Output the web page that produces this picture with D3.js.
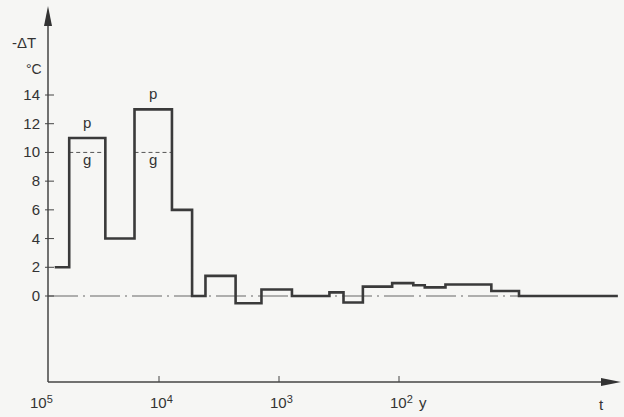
<!DOCTYPE html>
<html>
<head>
<meta charset="utf-8">
<script src="https://cdn.jsdelivr.net/npm/d3@7"></script>
<style>
body{margin:0;background:#f6f6f4;}
svg{display:block;font-family:"Liberation Sans",Arial,sans-serif;}
</style>
</head>
<body>
<svg id="chart" width="624" height="417"></svg>
<script>
// step boundaries in years before present
let edges=[74000,56000,28000,16000,7800,5300,4100,2300,1400,780,380,290,200,114,76,61,41,17,10,1.5]
// -dT in deg C for each step
let dT=[2,11,4,13,6,0,1.4,-0.5,0.45,0,0.25,-0.45,0.65,0.9,0.75,0.6,0.8,0.35,0]
// dashed "g" levels over the two cold peaks
let gSpans=[[56000,28000],[16000,7800]]
let gLevel=10
let yTicks=[0,2,4,6,8,10,12,14]
let xTicks=[100000,10000,1000,100]
let xExp=["5","4","3","2"]

let svg=d3.select("#chart")
let ink="#3a3a3a"
let x=d3.scaleLog().domain([1e5,1]).range([39,639])
let y=d3.scaleLinear().domain([0,14]).range([296,95])
let axX=48, axY=382

// zero reference line, dash-dot
svg.append("line")
	.attr("x1",axX).attr("x2",x(10)).attr("y1",y(0)).attr("y2",y(0))
	.attr("stroke","#666").attr("stroke-width",1.2)
	.attr("stroke-dasharray","30,5,2,5")

// g dashed lines
svg.selectAll(".g").data(gSpans).enter().append("line")
	.attr("x1",d=>x(d[0])).attr("x2",d=>x(d[1]))
	.attr("y1",y(gLevel)).attr("y2",y(gLevel))
	.attr("stroke","#555").attr("stroke-width",1)
	.attr("stroke-dasharray","4,3")

// step curve
let pts=dT.map((v,i)=>[edges[i],v])
pts.push([edges[edges.length-1],dT[dT.length-1]])
let line=d3.line().x(d=>x(d[0])).y(d=>y(d[1])).curve(d3.curveStepAfter)
svg.append("path")
	.attr("d",line(pts))
	.attr("fill","none").attr("stroke",ink).attr("stroke-width",2.6)
	.attr("stroke-linejoin","miter")

// axes
svg.append("line").attr("x1",axX).attr("x2",axX).attr("y1",axY).attr("y2",22)
	.attr("stroke","#444").attr("stroke-width",1.5)
svg.append("line").attr("x1",axX).attr("x2",606).attr("y1",axY).attr("y2",axY)
	.attr("stroke","#444").attr("stroke-width",1.5)
svg.append("path").attr("d",`M${axX},6 L${axX-4},26 L${axX+4},26 Z`).attr("fill","#333")
svg.append("path").attr("d",`M621,${axY} L601,${axY-4} L601,${axY+4} Z`).attr("fill","#333")

// y ticks and labels
svg.selectAll(".yt").data(yTicks).enter().append("line")
	.attr("x1",axX-3).attr("x2",axX+6).attr("y1",d=>y(d)).attr("y2",d=>y(d))
	.attr("stroke","#444").attr("stroke-width",1)
svg.selectAll(".yl").data(yTicks).enter().append("text")
	.attr("x",40).attr("y",d=>y(d)+5).attr("text-anchor","end")
	.attr("font-size",15).attr("fill","#333").text(d=>d)
svg.append("text").attr("x",12).attr("y",48).attr("font-size",15).attr("fill","#333").text("-ΔT")
svg.append("text").attr("x",26).attr("y",74).attr("font-size",14).attr("fill","#333").text("°C")

// x ticks and labels
svg.selectAll(".xt").data(xTicks.slice(1)).enter().append("line")
	.attr("x1",d=>x(d)).attr("x2",d=>x(d)).attr("y1",axY-6).attr("y2",axY)
	.attr("stroke","#444").attr("stroke-width",1)
let xl=svg.selectAll(".xl").data(xTicks).enter().append("text")
	.attr("x",d=>x(d)-9).attr("y",408).attr("font-size",15).attr("fill","#333")
xl.append("tspan").text("10")
xl.append("tspan").attr("dy",-5).attr("font-size",11).text((d,i)=>xExp[i])
svg.append("text").attr("x",419).attr("y",408).attr("font-size",15).attr("fill","#333").text("y")
svg.append("text").attr("x",599).attr("y",410).attr("font-size",15).attr("fill","#333").text("t")

// p / g annotations
let mids=gSpans.map(s=>Math.sqrt(s[0]*s[1]))
let pLev=[dT[1],dT[3]]
svg.selectAll(".pl").data(mids).enter().append("text")
	.attr("x",d=>x(d)).attr("y",(d,i)=>y(pLev[i])-10).attr("text-anchor","middle")
	.attr("font-size",15).attr("fill","#333").text("p")
svg.selectAll(".gl").data(mids).enter().append("text")
	.attr("x",d=>x(d)).attr("y",y(gLevel)+13).attr("text-anchor","middle")
	.attr("font-size",15).attr("fill","#333").text("g")
</script>
</body>
</html>
